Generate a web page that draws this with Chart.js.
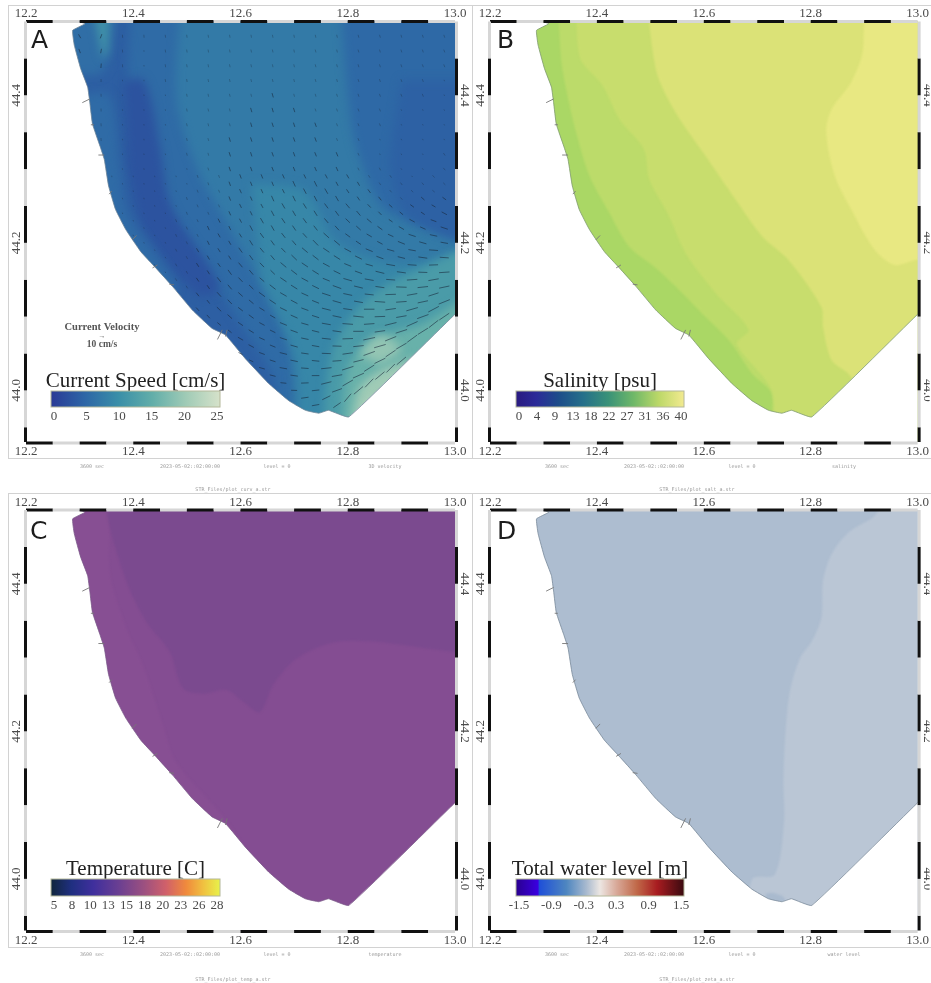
<!DOCTYPE html>
<html>
<head>
<meta charset="utf-8">
<title>Adriatic model output</title>
<script src="https://cdn.jsdelivr.net/npm/chart.js@4/dist/chart.umd.min.js"></script>
<style>
  html, body { margin: 0; background: #fff; }
  #page { position: relative; width: 931px; height: 983px; overflow: hidden; }
  #page canvas { position: absolute; filter: blur(0.45px); }
  .box { position: absolute; border: 1px solid #d2d2d2; box-sizing: border-box; }
</style>
</head>
<body>
<div id="page">
  <div class="box" style="left:8px;top:5px;width:465px;height:454px"></div>
  <div class="box" style="left:472px;top:5px;width:470px;height:454px"></div>
  <div class="box" style="left:8px;top:493px;width:465px;height:455px"></div>
  <div class="box" style="left:472px;top:493px;width:470px;height:455px"></div>
  <canvas id="panelA" width="472" height="493" style="left:0;top:0"></canvas>
  <canvas id="panelB" width="459" height="493" style="left:472px;top:0"></canvas>
  <canvas id="panelC" width="472" height="490" style="left:0;top:493px"></canvas>
  <canvas id="panelD" width="459" height="490" style="left:472px;top:493px"></canvas>
</div>
<script>
const lonTicks = [12.2, 12.4, 12.6, 12.8, 13.0];
const latTicks = [44.0, 44.2, 44.4];

// coastline, north to south, then the open boundary
const coast = [[12.293, 44.502], [12.31, 44.497], [12.287, 44.488], [12.29, 44.468], [12.302, 44.436], [12.315, 44.411],
  [12.319, 44.39], [12.324, 44.361], [12.338, 44.331], [12.346, 44.313], [12.354, 44.277], [12.367, 44.245],
  [12.386, 44.218], [12.414, 44.188], [12.442, 44.166], [12.473, 44.141], [12.51, 44.109], [12.547, 44.084],
  [12.572, 44.075], [12.609, 44.043], [12.653, 44.009], [12.69, 43.986], [12.721, 43.973], [12.746, 43.969],
  [12.764, 43.973], [12.802, 43.964], [12.997, 44.101], [13.1, 44.17]];

// little jetties sticking out of the coast
const jetties = [[12.305, 44.39], [12.319, 44.395], null, [12.321, 44.36], [12.327, 44.36], null,
  [12.335, 44.319], [12.346, 44.319], null, [12.355, 44.266], [12.36, 44.27], null,
  [12.398, 44.204], [12.406, 44.21], null, [12.436, 44.166], [12.445, 44.17], null,
  [12.467, 44.144], [12.476, 44.143], null, [12.557, 44.069], [12.566, 44.082], null,
  [12.572, 44.073], [12.575, 44.082]];

const allWater = [[12.1, 44.6], [13.1, 44.6], [13.1, 43.8], [12.1, 43.8]];

// current speed contours, cm/s
const speedLevels = [5.6, 7.4, 5.4, 4.4, 9, 12, 15.5, 20, 24, 19, 2.8, 5.6, 6, 11];
const speedBands = [
  [[12.40, 44.6], [12.39, 44.40], [12.40, 44.33], [12.46, 44.25], [12.54, 44.16], [12.60, 44.09], [12.66, 44.02], [12.70, 43.9], [13.1, 43.9], [13.1, 44.6]],
  [[12.50, 44.6], [12.48, 44.40], [12.52, 44.30], [12.58, 44.22], [12.64, 44.14], [12.69, 44.06], [12.73, 43.9], [13.1, 43.9], [13.1, 44.6]],
  [[12.78, 44.6], [12.80, 44.40], [12.82, 44.32], [12.88, 44.24], [13.1, 44.22], [13.1, 44.6]],
  [[12.90, 44.42], [12.88, 44.30], [12.92, 44.23], [13.1, 44.20], [13.1, 44.42]],
  [[12.62, 44.28], [12.72, 44.27], [12.78, 44.20], [12.90, 44.17], [13.1, 44.18], [13.1, 43.9], [12.74, 43.9], [12.70, 44.05], [12.64, 44.15]],
  [[12.75, 43.9], [12.77, 44.05], [12.83, 44.12], [12.92, 44.16], [13.1, 44.20], [13.1, 43.9]],
  [[12.785, 43.9], [12.80, 44.03], [12.85, 44.07], [12.94, 44.09], [13.1, 44.15], [13.1, 43.9]],
  [[12.80, 43.9], [12.82, 44.00], [12.87, 44.03], [12.96, 44.05], [13.1, 44.12], [13.1, 43.9]],
  [[12.81, 43.9], [12.84, 43.98], [12.91, 44.0], [13.1, 44.08], [13.1, 43.9]],
  [[12.82, 44.05], [12.86, 44.075], [12.90, 44.055], [12.86, 44.035]],
  [[12.38, 44.42], [12.42, 44.42], [12.45, 44.33], [12.47, 44.25], [12.56, 44.14], [12.52, 44.13], [12.42, 44.22], [12.39, 44.30]],
  [[12.30, 44.40], [12.355, 44.40], [12.375, 44.30], [12.39, 44.24], [12.48, 44.14], [12.46, 44.12], [12.34, 44.24]],
  [[12.27, 44.52], [12.36, 44.52], [12.36, 44.47], [12.34, 44.43], [12.27, 44.43]],
  [[12.325, 44.52], [12.35, 44.52], [12.352, 44.46], [12.345, 44.45], [12.338, 44.47]],
];

// salinity contours, fresher near the coast
const salinityColors = ["#bcdb6a", "#c8dd6d", "#dbe277", "#e8e882"];
const salinityBands = [
  [[12.324, 44.6], [12.333, 44.45], [12.349, 44.386], [12.361, 44.35], [12.386, 44.291], [12.423, 44.241], [12.46, 44.195], [12.51, 44.166], [12.547, 44.141], [12.597, 44.104], [12.647, 44.068], [12.69, 44.023], [12.727, 43.995], [12.733, 43.9], [13.1, 43.9], [13.1, 44.6]],
  [[12.364, 44.6], [12.367, 44.454], [12.411, 44.413], [12.442, 44.368], [12.488, 44.327], [12.498, 44.286], [12.535, 44.236], [12.566, 44.186], [12.622, 44.132], [12.684, 44.082], [12.662, 44.063], [12.727, 44.0], [12.746, 43.9], [13.1, 43.9], [13.1, 44.6]],
  [[12.485, 44.6], [12.51, 44.436], [12.547, 44.377], [12.603, 44.318], [12.659, 44.259], [12.709, 44.209], [12.758, 44.177], [12.82, 44.113], [12.823, 44.086], [12.839, 44.041], [12.87, 44.023], [12.895, 44.004], [13.1, 44.0], [13.1, 44.6]],
  [[12.895, 44.6], [12.898, 44.463], [12.876, 44.418], [12.839, 44.381], [12.829, 44.35], [12.845, 44.291], [12.876, 44.245], [12.919, 44.191], [12.957, 44.17], [13.0, 44.177], [13.1, 44.177], [13.1, 44.6]],
];

// temperature contours
const temperatureColors = ["#874f93", "#7b4a8f"];
const temperatureBands = [
  [[12.2, 44.6], [12.35, 44.6], [12.356, 44.417], [12.387, 44.34], [12.418, 44.29], [12.456, 44.208], [12.48, 44.158], [12.575, 44.078], [12.64, 44.0], [12.70, 43.9], [12.2, 43.9]],
  [[12.35, 44.6], [12.35, 44.5], [12.387, 44.404], [12.424, 44.349], [12.468, 44.308], [12.493, 44.258], [12.53, 44.251], [12.574, 44.256], [12.605, 44.24], [12.636, 44.226], [12.661, 44.263], [12.698, 44.295], [12.742, 44.313], [12.786, 44.322], [12.842, 44.322], [12.904, 44.317], [13.0, 44.308], [13.1, 44.308], [13.1, 44.6]],
];

// water level contours
const waterColors = ["#bac6d5", "#a9bace"];
const waterBands = [
  [[12.94, 44.6], [12.926, 44.499], [12.87, 44.469], [12.839, 44.44], [12.823, 44.404], [12.82, 44.354], [12.802, 44.322], [12.78, 44.299], [12.761, 44.254], [12.752, 44.19], [12.749, 44.131], [12.75, 44.077], [12.733, 44.006], [12.69, 43.999], [12.684, 43.9], [13.1, 43.9], [13.1, 44.6]],
  [[12.715, 43.979], [12.727, 43.981], [12.746, 43.977], [12.752, 43.97], [12.721, 43.96]],
];

// current vectors
const arrowLons = [12.30, 12.34, 12.38, 12.42, 12.46, 12.50, 12.54, 12.58, 12.62, 12.66, 12.70, 12.74, 12.78, 12.82, 12.86, 12.90, 12.94, 12.98];
const arrowLats = [44.48, 44.46, 44.44, 44.42, 44.40, 44.38, 44.36, 44.34, 44.32, 44.30, 44.28, 44.26, 44.24, 44.22, 44.20, 44.18, 44.16, 44.14, 44.12, 44.10, 44.08, 44.06, 44.04, 44.02, 44.00, 43.98];
const arrowAngles = [
  [60, 110, 85, 85, 82, 82, 80, 80, 80, 78, 78, 78, 76, 76, 74, 74, 72, 72],
  [70, 100, 85, 85, 82, 80, 80, 80, 78, 78, 78, 76, 76, 74, 74, 72, 72, 70],
  [0, 95, 85, 84, 82, 80, 80, 78, 78, 78, 76, 76, 74, 74, 72, 72, 70, 70],
  [0, 90, 85, 84, 80, 80, 78, 78, 76, 76, 76, 74, 74, 72, 72, 70, 70, 68],
  [0, 88, 85, 82, 80, 78, 78, 76, 76, 74, 74, 74, 72, 72, 70, 68, 68, 66],
  [0, 88, 84, 82, 80, 78, 76, 76, 74, 74, 72, 72, 72, 70, 68, 68, 66, 64],
  [0, 86, 84, 80, 78, 76, 76, 74, 74, 72, 72, 70, 70, 68, 68, 66, 64, 62],
  [0, 86, 82, 80, 78, 76, 74, 74, 72, 72, 70, 70, 68, 68, 66, 64, 62, 60],
  [0, 0, 82, 78, 76, 76, 74, 72, 72, 70, 70, 68, 68, 66, 64, 62, 60, 56],
  [0, 0, 80, 78, 76, 74, 72, 72, 70, 68, 68, 66, 66, 64, 62, 58, 54, 50],
  [0, 0, 80, 76, 74, 72, 72, 70, 68, 68, 66, 64, 62, 60, 58, 54, 50, 44],
  [0, 0, 78, 76, 74, 72, 70, 68, 66, 66, 64, 62, 60, 56, 52, 48, 42, 36],
  [0, 0, 76, 74, 72, 70, 68, 66, 64, 62, 60, 58, 54, 50, 46, 40, 34, 28],
  [0, 0, 0, 72, 70, 68, 66, 64, 62, 60, 56, 52, 48, 42, 36, 30, 24, 18],
  [0, 0, 0, 70, 68, 66, 64, 60, 58, 54, 50, 46, 40, 34, 28, 22, 16, 10],
  [0, 0, 0, 0, 66, 64, 60, 58, 54, 50, 44, 38, 32, 26, 20, 14, 8, 4],
  [0, 0, 0, 0, 64, 62, 58, 54, 50, 44, 38, 32, 26, 20, 14, 8, 2, -4],
  [0, 0, 0, 0, 0, 58, 56, 50, 44, 38, 32, 26, 20, 14, 8, 2, -6, -12],
  [0, 0, 0, 0, 0, 0, 52, 46, 40, 34, 28, 22, 16, 10, 4, -4, -12, -22],
  [0, 0, 0, 0, 0, 0, 48, 42, 36, 30, 24, 18, 12, 6, -2, -10, -20, -34],
  [0, 0, 0, 0, 0, 0, 0, 38, 32, 26, 20, 14, 8, 0, -8, -18, -32, 0],
  [0, 0, 0, 0, 0, 0, 0, 0, 28, 22, 16, 10, 2, -6, -16, -30, 0, 0],
  [0, 0, 0, 0, 0, 0, 0, 0, 24, 18, 12, 6, -4, -14, -26, -40, 0, 0],
  [0, 0, 0, 0, 0, 0, 0, 0, 0, 14, 8, 0, -10, -24, -40, 0, 0, 0],
  [0, 0, 0, 0, 0, 0, 0, 0, 0, 0, 2, -6, -20, -40, 0, 0, 0, 0],
  [0, 0, 0, 0, 0, 0, 0, 0, 0, 0, 0, -10, -35, 0, 0, 0, 0, 0],
];
const arrowLengths = [
  [3, 3, 2, 2, 2, 2, 2, 2, 2, 2, 2, 2, 2, 2, 2, 2, 2, 2],
  [3, 3, 2, 1, 2, 2, 2, 2, 2, 2, 2, 2, 2, 2, 2, 2, 2, 2],
  [0, 3, 2, 1, 2, 2, 2, 2, 2, 2, 2, 2, 2, 2, 2, 2, 2, 2],
  [0, 2, 1, 1, 2, 2, 2, 2, 2, 2, 2, 2, 2, 2, 2, 2, 2, 1],
  [0, 2, 1, 1, 1, 2, 2, 2, 2, 3, 2, 2, 2, 2, 2, 2, 2, 1],
  [0, 2, 1, 1, 1, 2, 2, 2, 3, 3, 3, 2, 2, 2, 2, 1, 1, 1],
  [0, 2, 1, 1, 1, 2, 2, 2, 3, 3, 3, 3, 2, 2, 2, 1, 1, 1],
  [0, 2, 1, 1, 1, 2, 2, 3, 3, 3, 3, 3, 2, 2, 1, 1, 1, 1],
  [0, 0, 1, 1, 1, 2, 2, 3, 3, 3, 3, 3, 3, 2, 1, 1, 1, 2],
  [0, 0, 1, 1, 1, 1, 2, 3, 3, 3, 3, 3, 3, 2, 2, 1, 1, 2],
  [0, 0, 1, 1, 1, 1, 2, 3, 3, 3, 4, 4, 3, 3, 2, 2, 2, 2],
  [0, 0, 1, 1, 1, 2, 2, 3, 3, 4, 4, 4, 4, 3, 3, 2, 3, 3],
  [0, 0, 1, 1, 1, 2, 2, 3, 3, 4, 4, 4, 4, 4, 3, 3, 3, 4],
  [0, 0, 0, 1, 1, 2, 3, 3, 4, 4, 4, 4, 4, 4, 4, 4, 4, 5],
  [0, 0, 0, 1, 1, 2, 3, 3, 4, 4, 4, 5, 5, 4, 4, 5, 5, 5],
  [0, 0, 0, 0, 1, 2, 3, 3, 4, 4, 5, 5, 5, 5, 5, 5, 6, 6],
  [0, 0, 0, 0, 1, 2, 3, 4, 4, 4, 5, 5, 5, 5, 6, 6, 6, 7],
  [0, 0, 0, 0, 0, 2, 3, 4, 4, 5, 5, 5, 6, 6, 6, 7, 7, 7],
  [0, 0, 0, 0, 0, 0, 3, 4, 4, 5, 5, 5, 6, 6, 7, 7, 7, 8],
  [0, 0, 0, 0, 0, 0, 3, 4, 4, 4, 5, 5, 6, 7, 7, 7, 8, 8],
  [0, 0, 0, 0, 0, 0, 0, 3, 4, 4, 5, 5, 6, 7, 7, 8, 8, 0],
  [0, 0, 0, 0, 0, 0, 0, 0, 4, 4, 5, 5, 6, 7, 8, 8, 0, 0],
  [0, 0, 0, 0, 0, 0, 0, 0, 3, 4, 5, 5, 6, 7, 8, 8, 0, 0],
  [0, 0, 0, 0, 0, 0, 0, 0, 0, 4, 5, 5, 7, 8, 8, 0, 0, 0],
  [0, 0, 0, 0, 0, 0, 0, 0, 0, 0, 4, 5, 7, 8, 0, 0, 0, 0],
  [0, 0, 0, 0, 0, 0, 0, 0, 0, 0, 0, 5, 6, 0, 0, 0, 0, 0],
];

// second, staggered set of vectors for the stronger southern part
const southLons = [12.32, 12.36, 12.40, 12.44, 12.48, 12.52, 12.56, 12.60, 12.64, 12.68, 12.72, 12.76, 12.80, 12.84, 12.88, 12.92, 12.96];
const southLats = [44.29, 44.27, 44.25, 44.23, 44.21, 44.19, 44.17, 44.15, 44.13, 44.11, 44.09, 44.07, 44.05, 44.03, 44.01, 43.99];
const southAngles = [
  [0, 80, 78, 76, 74, 72, 70, 70, 68, 66, 64, 62, 60, 58, 56, 52, 48],
  [0, 0, 76, 74, 72, 70, 68, 66, 66, 64, 62, 60, 56, 54, 50, 44, 38],
  [0, 0, 74, 72, 70, 68, 66, 64, 62, 60, 58, 54, 50, 46, 42, 36, 30],
  [0, 0, 72, 70, 68, 66, 64, 62, 60, 56, 54, 50, 44, 40, 34, 28, 20],
  [0, 0, 70, 68, 66, 64, 60, 58, 54, 52, 48, 42, 36, 30, 24, 18, 12],
  [0, 0, 0, 66, 64, 60, 58, 54, 50, 46, 40, 34, 28, 22, 16, 10, 4],
  [0, 0, 0, 64, 62, 58, 54, 50, 46, 40, 34, 28, 22, 16, 10, 4, -2],
  [0, 0, 0, 0, 58, 56, 52, 46, 40, 34, 28, 22, 16, 10, 4, -4, -10],
  [0, 0, 0, 0, 0, 52, 48, 42, 36, 30, 24, 18, 12, 6, -2, -10, -18],
  [0, 0, 0, 0, 0, 48, 44, 38, 32, 26, 20, 14, 8, 0, -8, -16, -28],
  [0, 0, 0, 0, 0, 0, 40, 34, 28, 22, 16, 10, 4, -4, -14, -24, -38],
  [0, 0, 0, 0, 0, 0, 0, 30, 24, 18, 12, 6, -2, -12, -22, -36, 0],
  [0, 0, 0, 0, 0, 0, 0, 26, 20, 14, 8, 2, -8, -20, -34, 0, 0],
  [0, 0, 0, 0, 0, 0, 0, 0, 16, 10, 4, -6, -18, -32, -45, 0, 0],
  [0, 0, 0, 0, 0, 0, 0, 0, 0, 6, -2, -14, -30, -46, 0, 0, 0],
  [0, 0, 0, 0, 0, 0, 0, 0, 0, 0, -8, -26, -50, 0, 0, 0, 0],
];
const southLengths = [
  [0, 1, 1, 1, 1, 2, 2, 3, 3, 3, 3, 3, 3, 2, 2, 1, 2],
  [0, 0, 1, 1, 1, 2, 2, 3, 3, 3, 4, 4, 3, 3, 2, 2, 2],
  [0, 0, 1, 1, 1, 2, 2, 3, 3, 4, 4, 4, 4, 3, 3, 3, 3],
  [0, 0, 1, 1, 2, 2, 3, 3, 4, 4, 4, 4, 4, 4, 3, 4, 4],
  [0, 0, 1, 1, 2, 2, 3, 3, 4, 4, 4, 5, 4, 4, 4, 5, 5],
  [0, 0, 0, 1, 2, 3, 3, 4, 4, 4, 5, 5, 5, 5, 5, 5, 6],
  [0, 0, 0, 1, 2, 3, 3, 4, 4, 5, 5, 5, 5, 5, 6, 6, 6],
  [0, 0, 0, 0, 2, 3, 4, 4, 4, 5, 5, 5, 6, 6, 6, 7, 7],
  [0, 0, 0, 0, 0, 3, 4, 4, 5, 5, 5, 6, 6, 6, 7, 7, 7],
  [0, 0, 0, 0, 0, 3, 4, 4, 4, 5, 5, 6, 6, 7, 7, 8, 8],
  [0, 0, 0, 0, 0, 0, 3, 4, 4, 5, 5, 6, 7, 7, 8, 8, 8],
  [0, 0, 0, 0, 0, 0, 0, 4, 4, 5, 5, 6, 7, 8, 8, 8, 0],
  [0, 0, 0, 0, 0, 0, 0, 3, 4, 5, 5, 6, 7, 8, 8, 0, 0],
  [0, 0, 0, 0, 0, 0, 0, 0, 4, 5, 5, 7, 8, 8, 8, 0, 0],
  [0, 0, 0, 0, 0, 0, 0, 0, 0, 4, 5, 7, 8, 8, 0, 0, 0],
  [0, 0, 0, 0, 0, 0, 0, 0, 0, 0, 5, 6, 7, 0, 0, 0, 0],
];

// colour bars
const speedTicks = ["0", "5", "10", "15", "20", "25"];
const salinityTicks = ["0", "4", "9", "13", "18", "22", "27", "31", "36", "40"];
const temperatureTicks = ["5", "8", "10", "13", "15", "18", "20", "23", "26", "28"];
const waterTicks = ["-1.5", "-0.9", "-0.3", "0.3", "0.9", "1.5"];
const speedStops = [[0, "#2a3a96"], [0.2, "#2d66a6"], [0.4, "#3a8fa8"], [0.6, "#62aea9"], [0.8, "#a0cbb6"], [1, "#d6e2ca"]];
const salinityStops = [[0, "#2a1a80"], [0.12, "#2b2a98"], [0.25, "#1d4c8a"], [0.4, "#25708a"], [0.55, "#3a9278"], [0.7, "#6fb868"], [0.85, "#bcd868"], [1, "#f2ea90"]];
const temperatureStops = [[0, "#10263c"], [0.12, "#1f2f80"], [0.25, "#3f2f9d"], [0.4, "#6a3f92"], [0.55, "#9c5080"], [0.68, "#d0606a"], [0.8, "#f08a3c"], [0.9, "#f0c040"], [1, "#e8f24a"]];
const waterStops = [[0, "#2a0090"], [0.13, "#3a00e0"], [0.14, "#1f50d8"], [0.3, "#4e86c0"], [0.42, "#a9bacf"], [0.5, "#ece6e2"], [0.6, "#d8a898"], [0.72, "#c06848"], [0.84, "#a81c20"], [1, "#3a0a10"]];

function speedColor(v) {
  const t = v / 25;
  for (let i = 1; i < speedStops.length; i++) {
    if (t <= speedStops[i][0]) {
      const a = speedStops[i - 1], b = speedStops[i];
      const f = (t - a[0]) / (b[0] - a[0]);
      const ca = [1, 3, 5].map(k => parseInt(a[1].substr(k, 2), 16));
      const cb = [1, 3, 5].map(k => parseInt(b[1].substr(k, 2), 16));
      return "rgb(" + ca.map((c, k) => Math.round(c + (cb[k] - c) * f)).join(",") + ")";
    }
  }
  return speedStops[speedStops.length - 1][1];
}

function toPoints(pairs) {
  return pairs.map(p => (p ? { x: p[0], y: p[1] } : { x: null, y: null }));
}

function vectorPoints(lons, lats, lengths, angles) {
  const pts = [];
  lats.forEach((lat, r) => {
    lons.forEach((lon, c) => {
      pts.push({ x: lon, y: lat, len: lengths[r][c], deg: angles[r][c] });
    });
  });
  return pts;
}

function band(pairs, color, tension) {
  return {
    data: toPoints(pairs), showLine: true, fill: "shape", backgroundColor: color,
    borderWidth: 0, pointRadius: 0, tension: tension,
  };
}

// everything that is not a library mark: frame, colour bar, texts
const mapPlugin = {
  id: "mapPlugin",
  beforeDatasetsDraw(chart) {
    chart.ctx.filter = "blur(" + chart.options.panel.blur + "px)";
  },
  afterDatasetDraw(chart, args) {
    if (chart.data.datasets[args.index].lastBand) chart.ctx.filter = "none";
  },
  afterDatasetsDraw(chart) {
    const ctx = chart.ctx, sx = chart.scales.x, sy = chart.scales.y, a = chart.chartArea;
    ctx.save();
    for (let i = 0; i < 16; i++) {
      const x0 = sx.getPixelForValue(12.2 + i * 0.05), x1 = sx.getPixelForValue(12.25 + i * 0.05);
      ctx.fillStyle = i % 2 ? "#d6d6d6" : "#111";
      ctx.fillRect(x0, a.top - 1.5, x1 - x0, 3);
      ctx.fillRect(x0, a.bottom - 0.5, x1 - x0, 3);
    }
    for (let i = -2; i < 10; i++) {
      const y0 = sy.getPixelForValue(44 + i * 0.05), y1 = sy.getPixelForValue(44.05 + i * 0.05);
      const top = Math.max(y1, a.top), bot = Math.min(y0, a.bottom);
      ctx.fillStyle = (i + 2) % 2 ? "#d6d6d6" : "#111";
      ctx.fillRect(a.left - 2, top, 3, bot - top);
      ctx.fillRect(a.right, top, 3, bot - top);
    }
    ctx.restore();
  },
  afterDraw(chart) {
    const p = chart.options.panel, ctx = chart.ctx;
    ctx.save();
    ctx.translate(-p.left, -p.top);

    ctx.fillStyle = "#1c1c1c";
    ctx.font = "25px 'DejaVu Sans'";
    ctx.textAlign = "left";
    ctx.textBaseline = "alphabetic";
    ctx.fillText(p.letter, p.letterX, p.letterY);

    const bar = p.bar;
    ctx.fillStyle = "#222";
    ctx.font = "21px 'Liberation Serif'";
    ctx.textAlign = "center";
    ctx.fillText(p.title, (bar.x0 + bar.x1) / 2, bar.y0 - 4);

    const g = ctx.createLinearGradient(bar.x0, 0, bar.x1, 0);
    p.stops.forEach(s => g.addColorStop(s[0], s[1]));
    ctx.fillStyle = g;
    ctx.fillRect(bar.x0, bar.y0, bar.x1 - bar.x0, bar.y1 - bar.y0);
    ctx.strokeStyle = "#b4b89a";
    ctx.lineWidth = 1;
    ctx.strokeRect(bar.x0, bar.y0, bar.x1 - bar.x0, bar.y1 - bar.y0);

    ctx.fillStyle = "#4a4a4a";
    ctx.font = "13px 'Liberation Serif'";
    ctx.textBaseline = "middle";
    p.ticks.forEach((t, i) => {
      const x = bar.x0 + 3 + (bar.x1 - bar.x0 - 6) * i / (p.ticks.length - 1);
      ctx.fillText(t, x, bar.y1 + 10);
    });

    if (p.legend) {
      ctx.fillStyle = "#555";
      ctx.font = "bold 10.5px 'Liberation Serif'";
      ctx.fillText("Current Velocity", 102, 327);
      ctx.font = "7px 'Liberation Serif'";
      ctx.fillText("→", 102, 336);
      ctx.font = "bold 9.5px 'Liberation Serif'";
      ctx.fillText("10 cm/s", 102, 345);
    }

    ctx.fillStyle = "#999";
    ctx.font = "5px 'DejaVu Sans Mono'";
    p.footer.forEach(f => ctx.fillText(f[0], f[1], f[2]));
    ctx.restore();
  },
};

function axis(position, fixed, extra) {
  return Object.assign({
    type: "linear", position: position,
    grid: { display: false, drawTicks: false },
    border: { display: false },
    afterBuildTicks(scale) {
      scale.ticks = (scale.isHorizontal() ? lonTicks : latTicks).map(v => ({ value: v }));
    },
    afterFit(scale) {
      if (scale.isHorizontal()) scale.height = fixed; else scale.width = fixed;
    },
  }, extra);
}

function vectorSet(points) {
  return {
    data: points, showLine: false, pointStyle: "line",
    pointRadius: c => c.raw.len * 0.75, pointRotation: c => c.raw.deg,
    pointBorderColor: c => (c.raw.len < 3 ? "rgba(24,40,58,0.32)" : "rgba(24,40,58,0.58)"),
    pointBorderWidth: 1,
  };
}

function drawPanel(p) {
  const tickFont = { family: "'Liberation Serif'", size: 13 };
  const lonOpts = { min: 12.2, max: 13.0 };
  const latOpts = { min: 43.93, max: 44.5 };
  const fmt = v => v.toFixed(1);
  const sets = [];
  sets.push(band(allWater, p.baseColor, 0));
  p.bands.forEach((b, i) => sets.push(band(b, p.colors[i], p.tension)));
  sets[sets.length - 1].lastBand = true;

  // land is white paint over the contours, its edge is the coast line
  const land = [[12.1, 44.6], [12.293, 44.6]].concat(coast, [[13.1, 43.8], [12.1, 43.8]]);
  sets.push({
    data: toPoints(land), showLine: true, fill: "shape", backgroundColor: "#fff",
    borderColor: p.coastColor, borderWidth: 0.8, pointRadius: 0, tension: 0.1,
  });
  sets.push({
    data: toPoints(jetties), showLine: true, spanGaps: false,
    borderColor: "#777", borderWidth: 0.9, pointRadius: 0, tension: 0,
  });
  if (p.arrows) {
    sets.push(vectorSet(vectorPoints(arrowLons, arrowLats, arrowLengths, arrowAngles)));
    sets.push(vectorSet(vectorPoints(southLons, southLats, southLengths, southAngles)));
  }

  new Chart(document.getElementById(p.id), {
    type: "scatter",
    data: { datasets: sets.reverse() },   // first dataset is painted last
    options: {
      responsive: false,
      animation: false,
      devicePixelRatio: 1,
      events: [],
      panel: p,
      layout: { padding: 0 },
      plugins: { legend: { display: false }, tooltip: { enabled: false } },
      scales: {
        x: axis("bottom", p.height - p.areaBottom, Object.assign({
          ticks: { font: tickFont, color: "#4a4a4a", padding: 2, minRotation: 0, maxRotation: 0, autoSkip: false, callback: fmt },
        }, lonOpts)),
        x2: axis("top", p.areaTop, Object.assign({
          axis: "x",
          ticks: { font: tickFont, color: "#4a4a4a", padding: 0, minRotation: 0, maxRotation: 0, autoSkip: false, callback: fmt },
        }, lonOpts)),
        y: axis("left", p.areaLeft, Object.assign({
          ticks: { font: tickFont, color: "#4a4a4a", padding: -2, minRotation: 90, maxRotation: 90, crossAlign: "center", autoSkip: false, callback: fmt },
        }, latOpts)),
        y2: axis("right", p.width - p.areaRight, Object.assign({
          axis: "y",
          ticks: { font: tickFont, color: "#4a4a4a", padding: -2, minRotation: -90, maxRotation: -90, crossAlign: "center", autoSkip: false, callback: fmt },
        }, latOpts)),
      },
    },
    plugins: [mapPlugin],
  });
}

drawPanel({
  id: "panelA", letter: "A", left: 0, top: 0, width: 472, height: 493,
  areaLeft: 26, areaRight: 455, areaTop: 21.5, areaBottom: 442,
  letterX: 31, letterY: 48, blur: 5, tension: 0.3, arrows: true, legend: true,
  baseColor: speedColor(4.2), colors: speedLevels.map(speedColor), bands: speedBands, coastColor: "#6f8598",
  title: "Current Speed [cm/s]", ticks: speedTicks, stops: speedStops,
  bar: { x0: 51, x1: 220, y0: 391, y1: 407 },
  footer: [["3600 sec", 92, 467], ["2023-05-02::02:00:00", 190, 467], ["level = 0", 277, 467], ["3D velocity", 385, 467], ["STR_Files/plot_curv_a.str", 233, 490]],
});

drawPanel({
  id: "panelB", letter: "B", left: 472, top: 0, width: 459, height: 493,
  areaLeft: 18, areaRight: 447, areaTop: 21.5, areaBottom: 442,
  letterX: 497, letterY: 48, blur: 1.2, tension: 0.3,
  baseColor: "#aad765", colors: salinityColors, bands: salinityBands, coastColor: "#7f9a70",
  title: "Salinity [psu]", ticks: salinityTicks, stops: salinityStops,
  bar: { x0: 516, x1: 684, y0: 391, y1: 407 },
  footer: [["3600 sec", 557, 467], ["2023-05-02::02:00:00", 654, 467], ["level = 0", 742, 467], ["salinity", 844, 467], ["STR_Files/plot_salt_a.str", 697, 490]],
});

drawPanel({
  id: "panelC", letter: "C", left: 0, top: 493, width: 472, height: 490,
  areaLeft: 26, areaRight: 455, areaTop: 17, areaBottom: 437.5,
  letterX: 30, letterY: 539, blur: 1, tension: 0.3,
  baseColor: "#844d92", colors: temperatureColors, bands: temperatureBands, coastColor: "#7c5a8a",
  title: "Temperature [C]", ticks: temperatureTicks, stops: temperatureStops,
  bar: { x0: 51, x1: 220, y0: 879, y1: 896 },
  footer: [["3600 sec", 92, 955], ["2023-05-02::02:00:00", 190, 955], ["level = 0", 277, 955], ["temperature", 385, 955], ["STR_Files/plot_temp_a.str", 233, 980]],
});

drawPanel({
  id: "panelD", letter: "D", left: 472, top: 493, width: 459, height: 490,
  areaLeft: 18, areaRight: 447, areaTop: 17, areaBottom: 437.5,
  letterX: 497, letterY: 539, blur: 1, tension: 0.3,
  baseColor: "#adbdd0", colors: waterColors, bands: waterBands, coastColor: "#7a8a9a",
  title: "Total water level [m]", ticks: waterTicks, stops: waterStops,
  bar: { x0: 516, x1: 684, y0: 879, y1: 896 },
  footer: [["3600 sec", 557, 955], ["2023-05-02::02:00:00", 654, 955], ["level = 0", 742, 955], ["water level", 844, 955], ["STR_Files/plot_zeta_a.str", 697, 980]],
});
</script>
</body>
</html>
